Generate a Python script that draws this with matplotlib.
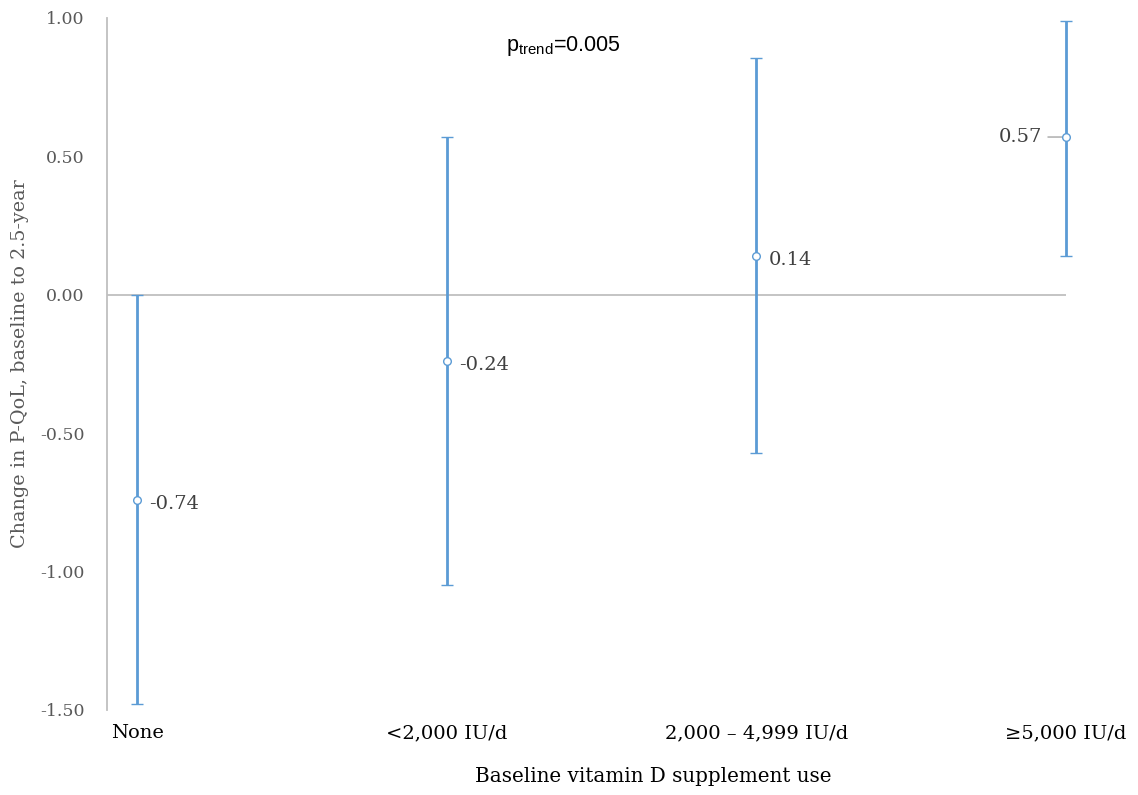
import numpy as np
import matplotlib
matplotlib.use("Agg")
import matplotlib.pyplot as plt

# data
categories = ["None", "<2,000 IU/d", "2,000 \u2013 4,999 IU/d", "\u22655,000 IU/d"]
means = [-0.74, -0.24, 0.14, 0.57]
upper = [0.00, 0.57, 0.855, 0.99]
lower = [-1.48, -1.05, -0.57, 0.14]
yticks = [1.00, 0.50, 0.00, -0.50, -1.00, -1.50]

blue = "#5b9bd5"
grey_axis = "#bfbfbf"
serif = ["DejaVu Serif"]

fig = plt.figure(figsize=(11.38, 7.95), dpi=100)
ax = fig.add_axes([107 / 1138, 85 / 795, (1066 - 107) / 1138, (710 - 18) / 795])

x = np.arange(len(categories))
means = np.array(means)
err = [means - np.array(lower), np.array(upper) - means]

eb = ax.errorbar(x, means, yerr=err, fmt="o", color=blue, ecolor=blue,
                 elinewidth=2, capsize=4.5, capthick=2,
                 markersize=5.5, markerfacecolor="white", markeredgecolor=blue,
                 markeredgewidth=1, zorder=3)
for art in eb.lines[1] + eb.lines[2] + (eb.lines[0],):
    art.set_clip_on(False)

ax.set_xlim(-0.097, 3.0)
ax.set_ylim(-1.5, 1.0)

# zero line instead of a bottom spine
ax.axhline(0, color=grey_axis, lw=1.3, zorder=1)
for s in ["top", "right", "bottom"]:
    ax.spines[s].set_visible(False)
ax.spines["left"].set_color(grey_axis)
ax.spines["left"].set_linewidth(1.3)

ax.set_yticks(yticks)
ax.set_yticklabels(["%.2f" % v for v in yticks], family=serif, fontsize=12.5, color="#595959")
ax.tick_params(axis="y", length=0, pad=16)

ax.set_xticks(x)
ax.set_xticklabels(categories, family=serif, fontsize=14, color="black")
ax.tick_params(axis="x", length=0, pad=10)

ax.set_ylabel("Change in P-QoL, baseline to 2.5-year", family=serif,
              fontsize=13.8, color="#595959", labelpad=8)
fig.text(653 / 1138, 18 / 795, "Baseline vitamin D supplement use",
         family=serif, fontsize=14.3, color="black", ha="center", va="center")

# data labels
for i, m in enumerate(means[:3]):
    ax.annotate("%.2f" % m, (x[i], m), xytext=(9, -3), textcoords="offset points",
                family=serif, fontsize=14, color="#404040", ha="left", va="center")
ax.annotate("%.2f" % means[3], (x[3], means[3]), xytext=(-17, 0), textcoords="offset points",
            family=serif, fontsize=14, color="#404040", ha="right", va="center",
            arrowprops=dict(arrowstyle="-", color="#a6a6a6", lw=1, shrinkA=2, shrinkB=3))

ax.text(1.375, 0.9, r"p$_\mathregular{trend}$=0.005", family=["Liberation Sans", "DejaVu Sans"],
        fontsize=15.5, color="black", ha="center", va="center")

fig.savefig("out.png", dpi=100)
